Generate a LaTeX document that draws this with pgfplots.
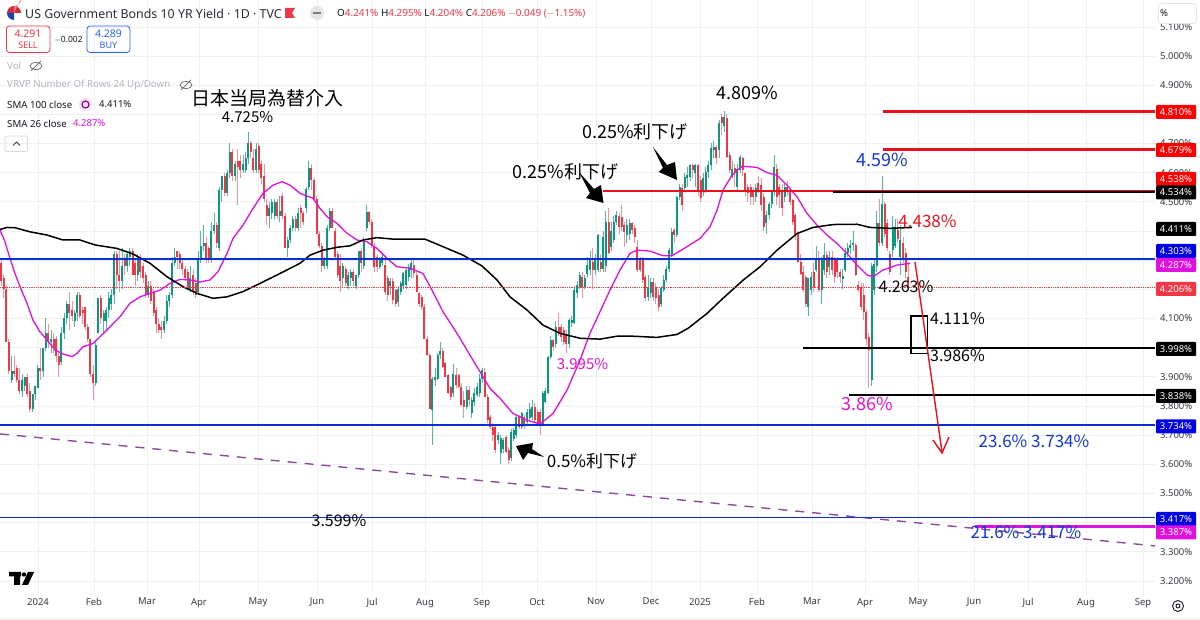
\documentclass[border=0pt]{standalone}
\usepackage{pgfplots}
\usepackage{pgfplotstable}
\pgfplotsset{compat=1.18}
\usepackage{fontspec}
\setmainfont{Noto Sans}
\newfontfamily\cjk{Noto Sans CJK JP}
\definecolor{tvgreen}{HTML}{089981}
\definecolor{tvred}{HTML}{F23645}
\definecolor{tvtext}{HTML}{131722}
\definecolor{tvgrey}{HTML}{B2B5BE}
\definecolor{tvblue}{HTML}{2962FF}
\definecolor{lineblue}{HTML}{0A2FD0}
\definecolor{linered}{HTML}{E8101A}
\definecolor{mag}{HTML}{E010E0}
\definecolor{purp}{HTML}{8E4B9E}
\definecolor{annblue}{HTML}{1438D8}
\newcommand{\fs}[1]{\fontsize{#1}{#1}\selectfont}
\pgfplotstableread{
o h l c
4.29 4.30 4.21 4.23
4.24 4.25 4.17 4.20
4.20 4.21 4.02 4.02
4.02 4.03 3.91 3.92
3.89 3.97 3.88 3.92
3.92 3.97 3.90 3.91
3.93 3.94 3.88 3.89
3.89 3.93 3.84 3.85
3.85 3.91 3.83 3.89
3.87 3.90 3.85 3.90
3.90 3.91 3.83 3.84
3.85 3.88 3.78 3.79
3.79 3.84 3.78 3.84
3.84 3.87 3.82 3.87
3.86 3.94 3.86 3.93
3.93 4.00 3.89 3.92
3.92 4.00 3.90 4.00
4.00 4.10 3.99 4.05
4.05 4.08 4.00 4.02
4.02 4.06 3.98 4.03
4.03 4.05 3.98 4.00
4.03 4.04 3.95 3.97
3.97 3.98 3.90 3.94
3.95 4.07 3.94 4.05
4.05 4.12 4.03 4.10
4.10 4.16 4.08 4.15
4.15 4.19 4.06 4.12
4.13 4.16 4.09 4.11
4.09 4.13 4.07 4.12
4.12 4.19 4.09 4.18
4.18 4.19 4.10 4.11
4.13 4.14 4.08 4.12
4.14 4.14 4.06 4.07
4.07 4.08 4.02 4.03
4.03 4.03 3.90 3.91
3.91 3.94 3.82 3.88
3.88 4.02 3.87 4.01
4.05 4.17 4.05 4.17
4.17 4.18 4.08 4.10
4.09 4.13 4.05 4.12
4.09 4.14 4.06 4.13
4.13 4.19 4.10 4.17
4.15 4.20 4.13 4.18
4.18 4.33 4.15 4.32
4.32 4.33 4.20 4.25
4.25 4.33 4.19 4.23
4.23 4.34 4.20 4.28
4.30 4.32 4.25 4.28
4.28 4.33 4.26 4.32
4.31 4.34 4.28 4.33
4.33 4.34 4.25 4.25
4.29 4.30 4.21 4.25
4.25 4.32 4.23 4.30
4.30 4.32 4.24 4.26
4.28 4.29 4.22 4.24
4.25 4.26 4.17 4.18
4.18 4.23 4.17 4.21
4.21 4.23 4.15 4.16
4.19 4.20 4.11 4.12
4.13 4.14 4.05 4.08
4.08 4.10 4.05 4.06
4.07 4.09 4.03 4.06
4.06 4.11 4.05 4.09
4.09 4.18 4.08 4.16
4.16 4.19 4.14 4.18
4.18 4.31 4.17 4.29
4.29 4.34 4.28 4.31
4.33 4.33 4.27 4.31
4.32 4.33 4.27 4.29
4.29 4.30 4.25 4.27
4.27 4.28 4.23 4.24
4.26 4.27 4.20 4.20
4.20 4.28 4.19 4.24
4.25 4.27 4.18 4.19
4.22 4.24 4.17 4.18
4.19 4.33 4.18 4.30
4.30 4.40 4.29 4.35
4.35 4.42 4.33 4.36
4.36 4.38 4.29 4.30
4.34 4.35 4.29 4.30
4.30 4.43 4.29 4.40
4.40 4.46 4.39 4.42
4.42 4.43 4.34 4.36
4.34 4.55 4.33 4.54
4.54 4.59 4.50 4.59
4.59 4.60 4.52 4.53
4.53 4.61 4.52 4.60
4.60 4.70 4.58 4.67
4.67 4.68 4.57 4.59
4.59 4.64 4.57 4.63
4.64 4.68 4.49 4.62
4.64 4.66 4.58 4.61
4.61 4.66 4.60 4.63
4.61 4.67 4.60 4.65
4.65 4.74 4.63 4.70
4.70 4.71 4.65 4.67
4.65 4.68 4.60 4.61
4.61 4.70 4.60 4.68
4.69 4.70 4.60 4.61
4.63 4.64 4.56 4.58
4.59 4.63 4.50 4.51
4.49 4.51 4.42 4.45
4.45 4.50 4.41 4.48
4.46 4.51 4.44 4.50
4.45 4.51 4.44 4.50
4.50 4.51 4.44 4.45
4.45 4.52 4.43 4.47
4.52 4.53 4.44 4.45
4.45 4.46 4.34 4.34
4.34 4.38 4.31 4.37
4.37 4.42 4.36 4.41
4.41 4.45 4.40 4.44
4.44 4.45 4.40 4.41
4.41 4.48 4.40 4.46
4.48 4.49 4.41 4.46
4.46 4.47 4.42 4.43
4.48 4.55 4.46 4.545
4.55 4.64 4.54 4.615
4.615 4.63 4.54 4.575
4.575 4.58 4.50 4.51
4.51 4.52 4.39 4.39
4.39 4.40 4.34 4.35
4.35 4.36 4.26 4.28
4.28 4.31 4.27 4.30
4.28 4.42 4.27 4.41
4.41 4.48 4.40 4.47
4.47 4.48 4.41 4.41
4.40 4.41 4.30 4.31
4.32 4.33 4.24 4.25
4.28 4.32 4.19 4.23
4.24 4.29 4.21 4.28
4.27 4.28 4.21 4.22
4.21 4.26 4.20 4.25
4.24 4.27 4.21 4.26
4.26 4.27 4.21 4.23
4.21 4.25 4.20 4.25
4.25 4.33 4.24 4.33
4.33 4.34 4.26 4.29
4.28 4.38 4.27 4.37
4.41 4.49 4.40 4.465
4.465 4.47 4.42 4.43
4.43 4.44 4.34 4.35
4.35 4.36 4.26 4.277
4.31 4.32 4.26 4.277
4.277 4.31 4.27 4.305
4.29 4.32 4.28 4.31
4.283 4.30 4.18 4.19
4.24 4.25 4.16 4.18
4.21 4.24 4.18 4.23
4.23 4.24 4.15 4.163
4.197 4.20 4.14 4.15
4.157 4.21 4.14 4.20
4.19 4.23 4.18 4.22
4.21 4.26 4.20 4.255
4.215 4.27 4.20 4.266
4.243 4.285 4.23 4.277
4.266 4.30 4.24 4.289
4.283 4.30 4.24 4.255
4.25 4.26 4.19 4.19
4.186 4.19 4.14 4.15
4.174 4.18 4.13 4.14
4.14 4.15 4.03 4.03
4.03 4.04 3.97 3.975
3.975 3.98 3.79 3.79
3.786 3.90 3.666 3.894
3.889 3.93 3.87 3.90
3.894 3.98 3.89 3.975
3.975 4.02 3.96 3.99
3.99 4.00 3.93 3.935
3.946 3.95 3.90 3.90
3.906 3.91 3.84 3.843
3.866 3.87 3.82 3.831
3.843 3.945 3.83 3.911
3.906 3.93 3.86 3.871
3.906 3.91 3.86 3.866
3.866 3.88 3.80 3.803
3.82 3.85 3.76 3.797
3.797 3.87 3.79 3.854
3.854 3.87 3.80 3.82
3.774 3.83 3.76 3.82
3.815 3.86 3.80 3.843
3.837 3.88 3.83 3.866
3.843 3.91 3.83 3.894
3.894 3.93 3.88 3.923
3.917 3.93 3.83 3.831
3.831 3.84 3.74 3.751
3.763 3.77 3.72 3.729
3.729 3.74 3.68 3.70
3.729 3.73 3.64 3.649
3.683 3.71 3.67 3.70
3.637 3.70 3.60 3.69
3.651 3.69 3.64 3.683
3.695 3.70 3.64 3.643
3.65 3.66 3.60 3.614
3.62 3.72 3.61 3.711
3.688 3.725 3.68 3.717
3.70 3.77 3.69 3.763
3.763 3.77 3.72 3.729
3.729 3.78 3.72 3.774
3.763 3.77 3.72 3.735
3.745 3.79 3.73 3.78
3.757 3.81 3.75 3.791
3.763 3.82 3.75 3.797
3.797 3.81 3.74 3.751
3.78 3.79 3.73 3.734
3.78 3.79 3.70 3.734
3.734 3.85 3.73 3.843
3.815 3.86 3.81 3.85
3.843 3.97 3.84 3.969
3.969 4.04 3.96 4.026
4.026 4.03 3.99 4.003
4.014 4.09 4.00 4.071
4.071 4.12 4.04 4.054
4.071 4.08 4.02 4.037
4.06 4.07 4.01 4.02
4.048 4.06 3.98 4.014
4.014 4.10 4.00 4.094
4.086 4.11 4.07 4.094
4.083 4.21 4.08 4.197
4.186 4.23 4.17 4.214
4.209 4.26 4.20 4.249
4.243 4.26 4.17 4.209
4.209 4.25 4.20 4.24
4.254 4.31 4.24 4.283
4.266 4.33 4.25 4.30
4.294 4.34 4.20 4.266
4.266 4.32 4.25 4.30
4.266 4.39 4.26 4.385
4.294 4.32 4.26 4.271
4.27 4.40 4.26 4.38
4.28 4.47 4.26 4.431
4.431 4.48 4.32 4.323
4.346 4.43 4.33 4.40
4.37 4.45 4.36 4.431
4.431 4.47 4.42 4.454
4.451 4.46 4.39 4.414
4.449 4.49 4.40 4.414
4.42 4.43 4.345 4.397
4.385 4.44 4.36 4.42
4.39 4.44 4.37 4.426
4.426 4.43 4.39 4.403
4.41 4.42 4.36 4.38
4.346 4.37 4.26 4.266
4.306 4.31 4.26 4.266
4.30 4.31 4.22 4.232
4.243 4.25 4.16 4.169
4.174 4.25 4.16 4.209
4.186 4.24 4.17 4.226
4.226 4.24 4.16 4.174
4.209 4.22 4.15 4.169
4.18 4.20 4.125 4.14
4.15 4.21 4.14 4.203
4.197 4.25 4.19 4.232
4.232 4.28 4.225 4.271
4.271 4.34 4.26 4.334
4.317 4.41 4.31 4.397
4.403 4.41 4.36 4.386
4.386 4.52 4.38 4.517
4.517 4.56 4.505 4.55
4.546 4.56 4.47 4.489
4.546 4.60 4.54 4.586
4.58 4.62 4.55 4.592
4.586 4.63 4.57 4.625
4.625 4.63 4.58 4.609
4.597 4.63 4.55 4.625
4.625 4.63 4.52 4.54
4.574 4.59 4.50 4.512
4.54 4.60 4.52 4.58
4.54 4.62 4.53 4.603
4.603 4.64 4.58 4.626
4.626 4.70 4.61 4.683
4.677 4.71 4.65 4.689
4.689 4.695 4.63 4.649
4.677 4.78 4.65 4.769
4.792 4.80 4.73 4.769
4.76 4.81 4.74 4.79
4.786 4.80 4.65 4.654
4.66 4.67 4.60 4.609
4.586 4.64 4.58 4.614
4.615 4.63 4.55 4.60
4.55 4.63 4.54 4.614
4.609 4.66 4.60 4.654
4.649 4.655 4.59 4.609
4.597 4.60 4.52 4.534
4.551 4.56 4.50 4.529
4.551 4.56 4.49 4.517
4.534 4.55 4.49 4.517
4.517 4.56 4.50 4.546
4.563 4.59 4.53 4.54
4.557 4.58 4.47 4.489
4.517 4.53 4.40 4.414
4.426 4.47 4.39 4.454
4.454 4.50 4.44 4.494
4.494 4.54 4.48 4.534
4.534 4.66 4.52 4.62
4.614 4.63 4.49 4.517
4.551 4.56 4.48 4.523
4.534 4.56 4.45 4.477
4.517 4.56 4.50 4.551
4.551 4.57 4.52 4.534
4.534 4.545 4.49 4.50
4.506 4.51 4.42 4.431
4.454 4.46 4.37 4.391
4.391 4.40 4.29 4.294
4.294 4.32 4.25 4.254
4.26 4.28 4.19 4.197
4.243 4.25 4.14 4.151
4.14 4.24 4.11 4.237
4.197 4.26 4.18 4.243
4.26 4.29 4.19 4.209
4.266 4.35 4.26 4.30
4.30 4.33 4.19 4.197
4.197 4.31 4.15 4.30
4.266 4.36 4.25 4.317
4.317 4.33 4.24 4.26
4.277 4.33 4.25 4.311
4.311 4.33 4.25 4.266
4.30 4.31 4.22 4.243
4.30 4.31 4.24 4.26
4.26 4.27 4.22 4.243
4.236 4.27 4.20 4.245
4.266 4.34 4.26 4.323
4.323 4.36 4.31 4.34
4.34 4.37 4.32 4.351
4.351 4.40 4.33 4.357
4.351 4.36 4.245 4.249
4.214 4.23 4.19 4.197
4.209 4.22 4.13 4.14
4.18 4.22 4.095 4.123
4.123 4.13 4.01 4.03
4.037 4.05 3.86 3.991
3.889 4.29 3.87 4.28
4.197 4.30 4.18 4.288
4.28 4.47 4.26 4.426
4.426 4.51 4.35 4.36
4.36 4.59 4.35 4.494
4.494 4.50 4.38 4.391
4.426 4.44 4.33 4.34
4.32 4.33 4.25 4.26
4.335 4.45 4.31 4.414
4.35 4.44 4.34 4.414
4.403 4.44 4.36 4.374
4.311 4.42 4.25 4.37
4.357 4.38 4.29 4.30
4.323 4.34 4.24 4.26
4.241 4.295 4.204 4.206
}\bars
\pgfplotstablecreatecol[create col/expr={\pgfplotstablerow*2.63+1}]{x}\bars
\begin{document}
\begin{tikzpicture}
\fill[white] (0,0) rectangle (1200pt,620pt);
\useasboundingbox (0,0) rectangle (1200pt,620pt);
\begin{axis}[
  at={(0pt,25pt)}, anchor=south west,
  scale only axis, width=1155pt, height=595pt,
  xmin=0, xmax=1155, ymin=3.1516, ymax=5.192,
  axis line style={draw=none}, tick style={draw=none},
  grid=major, grid style={color=black!6, line width=0.6pt},
  xtick={38,94,147,199,258,317,372,425,482,537,596,651,700,757,812,865,918,974,1028,1086,1143},
  xticklabels={\textbf{2024},Feb,Mar,Apr,May,Jun,Jul,Aug,Sep,Oct,Nov,Dec,\textbf{2025},Feb,Mar,Apr,May,Jun,Jul,Aug,Sep},
  xticklabel style={font=\fs{9.5}, text=tvtext!85, yshift=-2pt, inner sep=1pt},
  ytick={3.2,3.3,3.5,3.6,3.7,3.8,3.9,4.1,4.5,4.6,4.7,4.9,5.0,5.1},
  extra y ticks={3.4,4.0,4.2,4.3,4.4,4.8},
  extra y tick labels={},
  extra y tick style={grid=major},
  yticklabel pos=right,
  yticklabel={\pgfmathprintnumber[fixed,fixed zerofill,precision=3,assume math mode=true]{\tick}\%},
  yticklabel style={font=\fs{9.5}, text=tvtext!85, anchor=east, xshift=37.5pt, inner sep=0pt},
  clip=true,
]
% wicks
\addplot[draw=none, forget plot, error bars/.cd, y dir=plus, y explicit, error mark=none,
  error bar style={line width=0.9pt, tvgreen!70}]
  table[x=x, y expr={\thisrow{c}>=\thisrow{o} ? \thisrow{l} : nan}, y error plus expr={\thisrow{h}-\thisrow{l}}] {\bars};
\addplot[draw=none, forget plot, error bars/.cd, y dir=plus, y explicit, error mark=none,
  error bar style={line width=0.9pt, tvred!55}]
  table[x=x, y expr={\thisrow{c}<\thisrow{o} ? \thisrow{l} : nan}, y error plus expr={\thisrow{h}-\thisrow{l}}] {\bars};
% bodies
\addplot[draw=none, forget plot, error bars/.cd, y dir=plus, y explicit, error mark=none,
  error bar style={line width=2pt, tvgreen}]
  table[x=x, y expr={\thisrow{c}>=\thisrow{o} ? \thisrow{o} : nan}, y error plus expr={\thisrow{c}-\thisrow{o}}] {\bars};
\addplot[draw=none, forget plot, error bars/.cd, y dir=plus, y explicit, error mark=none,
  error bar style={line width=2pt, tvred}]
  table[x=x, y expr={\thisrow{c}<\thisrow{o} ? \thisrow{c} : nan}, y error plus expr={\thisrow{o}-\thisrow{c}}] {\bars};
\addplot[purp, line width=1.4pt, dash pattern=on 9pt off 8pt] coordinates {(0,3.704)(1155,3.320)};
% SMA 26
\addplot[mag, line width=1.3pt, line join=round] coordinates {
(0,4.403)(5,4.363)(10,4.306)(15,4.254)(20,4.209)(27,4.152)(33,4.094)(40,4.054)(47,4.026)(55,3.992)(63,3.978)(72,3.969)(77,3.98)(83,4.003)(93,4.014)(100,4.037)(110,4.071)(120,4.106)(130,4.152)(140,4.174)(150,4.186)(160,4.197)(170,4.22)(180,4.234)(190,4.232)(200,4.225)(210,4.232)(218,4.26)(227,4.323)(233,4.374)(243,4.42)(253,4.477)(263,4.529)(273,4.557)(282,4.569)(290,4.557)(300,4.529)
(313,4.512)(320,4.477)(328,4.446)(337,4.426)(347,4.392)(357,4.369)(367,4.363)(377,4.34)(387,4.306)(397,4.277)(410,4.272)(423,4.254)(432,4.197)(443,4.123)(457,4.049)(470,3.974)(482,3.906)(490,3.86)(500,3.826)(513,3.774)(527,3.751)(540,3.738)(553,3.774)(567,3.854)(580,3.957)(590,4.049)(600,4.123)
(610,4.197)(620,4.266)(630,4.323)(637,4.334)(650,4.331)(663,4.315)(672,4.315)(687,4.346)(700,4.374)(710,4.414)(717,4.471)(723,4.54)(732,4.591)(742,4.622)(757,4.618)(767,4.6)(777,4.591)(787,4.557)(797,4.517)(807,4.46)(817,4.42)(827,4.386)(837,4.357)(847,4.323)(857,4.283)(867,4.249)(873,4.243)(883,4.266)(897,4.283)(910,4.289)};
% SMA 100
\addplot[black, line width=1.5pt, line join=round] coordinates {
(0,4.405)(7,4.412)(15,4.411)(30,4.397)(47,4.386)(63,4.369)(80,4.369)(95,4.352)(117,4.34)(133,4.321)(150,4.289)(167,4.243)(183,4.209)(197,4.186)(213,4.169)(227,4.174)(243,4.192)(260,4.22)(277,4.249)(300,4.289)
(310,4.317)(323,4.334)(337,4.344)(350,4.349)(363,4.369)(377,4.377)(393,4.372)(425,4.372)(443,4.346)(463,4.317)(482,4.28)(497,4.232)(510,4.174)(527,4.129)(543,4.077)(560,4.049)(580,4.032)(600,4.029)
(617,4.039)(633,4.039)(657,4.035)(677,4.045)(688,4.066)(707,4.117)(723,4.169)(743,4.231)(760,4.277)(777,4.334)(797,4.391)(813,4.412)(833,4.422)(857,4.423)(870,4.412)(890,4.409)(912,4.412)};
% level lines
\addplot[draw=lineblue, line width=1.5pt] coordinates {(0,4.303)(1155,4.303)};
\addplot[draw=lineblue, line width=1.5pt] coordinates {(0,3.734)(1155,3.734)};
\addplot[draw=lineblue, line width=1.5pt] coordinates {(0,3.417)(1155,3.417)};
\addplot[draw=tvred, line width=0.8pt, densely dotted] coordinates {(0,4.206)(1155,4.206)};
\addplot[linered, line width=1.6pt] coordinates {(603,4.538)(1155,4.538)};
\addplot[black, line width=2.4pt] coordinates {(833,4.534)(1155,4.534)};
\addplot[linered, line width=2.4pt] coordinates {(883,4.810)(1155,4.810)};
\addplot[linered, line width=2.4pt] coordinates {(883,4.679)(1155,4.679)};
\addplot[black, line width=2.4pt] coordinates {(803,3.998)(1155,3.998)};
\addplot[black, line width=2.4pt] coordinates {(849,3.838)(1155,3.838)};
\addplot[mag, line width=2.4pt] coordinates {(975,3.387)(1155,3.387)};
\end{axis}
\begin{scope}[x=1pt,y=-1pt,shift={(0pt,620pt)}]
% header
\fill[tvred!85!black] (7,13) -- (21,13) arc (0:-180:7) -- cycle;
\fill[tvblue!70!black] (7,13) arc (180:90:7) -- (14,13) -- cycle;
\fill[tvred!70] (14,6) arc (90:0:7) -- (14,13) -- cycle;
\node[anchor=west, inner sep=0, text=tvtext!90, font=\fs{12.4}] at (25,13.5) {US Government Bonds 10 YR Yield · 1D · TVC};
\fill[tvred] (285,8) -- (295,8) -- (292,13) -- (295,18) -- (285,18) -- cycle;
\fill[black!10] (317,13) circle (7);
\fill[black!50] (313,12) rectangle (321,14);
\node[anchor=west, inner sep=0, font=\fs{9.9}] at (337,13.5) {\textcolor{tvtext}{O}\textcolor{tvred}{4.241\%} \textcolor{tvtext}{H}\textcolor{tvred}{4.295\%} \textcolor{tvtext}{L}\textcolor{tvred}{4.204\%} \textcolor{tvtext}{C}\textcolor{tvred}{4.206\% $-$0.049 ($-$1.15\%)}};
% sell, buy
\draw[tvred, line width=0.8pt, rounded corners=3pt] (6.5,26) rectangle (50,52.5);
\node[text=tvred, inner sep=0, font=\fs{10.5}] at (28,34) {4.291};
\node[text=tvred, inner sep=0, font=\fs{9}] at (28,45.5) {SELL};
\node[text=tvtext, inner sep=0, font=\fs{8.5}] at (68.5,40) {$-$0.002};
\draw[tvblue, line width=0.8pt, rounded corners=3pt] (87,26) rectangle (130,52.5);
\node[text=tvblue, inner sep=0, font=\fs{10.5}] at (108.5,34) {4.289};
\node[text=tvblue, inner sep=0, font=\fs{9}] at (108.5,45.5) {BUY};
% legend lines
\node[anchor=west, inner sep=0, text=tvgrey, font=\fs{9.7}] at (7,66) {Vol};
\draw[black!60, line width=0.7pt] (36,66) ellipse (6 and 3.5) (31,71) -- (41,61);
\node[anchor=west, inner sep=0, text=tvgrey, font=\fs{9.7}] at (7,85) {VRVP Number Of Rows 24 Up/Down};
\draw[black!60, line width=0.7pt] (186,85) ellipse (6 and 3.5) (181,90) -- (191,80);
\node[anchor=west, inner sep=0, text=tvtext, font=\fs{9.7}] at (7,104.5) {SMA 100 close};
\fill[tvblue!15!mag!15] (85.5,104.5) circle (6.5);
\draw[purple!70!blue, line width=1.1pt] (85.5,104.5) circle (3.5);
\node[anchor=west, inner sep=0, text=tvtext, font=\fs{9.5}] at (99,104.5) {4.411\%};
\node[anchor=west, inner sep=0, text=tvtext, font=\fs{9.7}] at (7,123.5) {SMA 26 close};
\node[anchor=west, inner sep=0, text=mag, font=\fs{9.5}] at (73,123.5) {4.287\%};
\draw[black!15, line width=0.7pt, rounded corners=2pt] (5,136) rectangle (27.5,151.5);
\draw[black!75, line width=0.8pt] (13,145.5) -- (16.5,142) -- (20,145.5);
% annotations
\node[inner sep=0, font=\cjk\fs{19}, text=black] at (267.5,98) {日本当局為替介入};
\node[inner sep=0, font=\cjk\fs{15}, text=black] at (247.5,117) {4.725\%};
\node[inner sep=0, font=\cjk\fs{18}, text=black] at (747.5,93) {4.809\%};
\node[inner sep=0, font=\cjk\fs{18}, text=black] at (635,132) {0.25\%利下げ};
\node[inner sep=0, font=\cjk\fs{18}, text=black] at (565.5,172) {0.25\%利下げ};
\node[inner sep=0, font=\cjk\fs{17}, text=black] at (592,461) {0.5\%利下げ};
\node[inner sep=0, font=\cjk\fs{15}, text=mag] at (582.5,364) {3.995\%};
\node[inner sep=0, font=\cjk\fs{18}, text=annblue] at (882.5,160) {4.59\%};
\node[inner sep=0, font=\cjk\fs{17}, text=linered] at (927.5,221) {4.438\%};
\node[inner sep=0, font=\cjk\fs{16}, text=black] at (906,287) {4.263\%};
\node[inner sep=0, font=\cjk\fs{16}, text=black] at (957.5,319) {4.111\%};
\node[inner sep=0, font=\cjk\fs{16}, text=black] at (957.5,356) {3.986\%};
\node[inner sep=0, font=\cjk\fs{18}, text=mag] at (867.5,404) {3.86\%};
\node[inner sep=0, font=\cjk\fs{17}, text=annblue] at (1034,441) {23.6\% 3.734\%};
\node[inner sep=0, font=\cjk\fs{16}, text=black] at (339,521) {3.599\%};
\node[inner sep=0, font=\cjk\fs{17}, text=annblue] at (1026,532) {21.6\% 3.417\%};
% block arrows
\fill[black] (579,172) -- (594,189) -- (601,185) -- (603.5,203) -- (586,198) -- (590,193) -- cycle;
\fill[black] (653,147) -- (667,165) -- (675,162) -- (677,180) -- (659,172) -- (663,168) -- cycle;
\fill[black] (516,446) -- (533,443) -- (532,449) -- (544,457) -- (528,453) -- (523,460) -- cycle;
% box and projected move
\draw[black, line width=1.6pt] (911,316) rectangle (927.5,353.5);
\draw[linered, line width=1.4pt] (915,262) -- (942,452);
\draw[linered, line width=1.4pt] (933,440) -- (942,453) -- (949,437);
% TradingView logo
\fill[black] (9,572) rectangle (21,576.5) (14,576.5) rectangle (20,585);
\fill[black] (24,574.5) circle (2.2);
\fill[black] (28,572) -- (34,572) -- (28,585) -- (22,585) -- cycle;
% gear
\draw[tvtext, line width=0.9pt] (1178,606) circle (5.5);
\draw[tvtext, line width=0.9pt] (1178,606) circle (2);
% unit box
\fill[white] (1158,3) rectangle (1197,24);
\draw[black!10, line width=0.6pt, rounded corners=3pt] (1158.5,3.5) rectangle (1196.5,23.5);
\node[inner sep=0, text=tvtext, font=\fs{9.5}] at (1164,13.5) {\%};
% tags
\newcommand{\ptag}[3]{\fill[#3, rounded corners=1pt] (1156,#1-7) rectangle (1196,#1+7);
  \node[inner sep=0, text=white, font=\fs{9.5}] at (1176,#1) {#2};}
\ptag{112}{4.810\%}{red}
\ptag{150}{4.679\%}{red}
\ptag{179}{4.538\%}{red}
\ptag{192.5}{4.534\%}{black}
\ptag{229}{4.411\%}{black}
\ptag{251}{4.303\%}{blue!90!black}
\ptag{265}{4.287\%}{mag}
\ptag{289}{4.206\%}{tvred}
\ptag{349}{3.998\%}{black}
\ptag{396}{3.838\%}{black}
\ptag{426.5}{3.734\%}{blue!90!black}
\ptag{519}{3.417\%}{blue!90!black}
\ptag{532.5}{3.387\%}{mag}
\fill[black!6] (0,618) rectangle (1200,620);
\end{scope}
\end{tikzpicture}
\end{document}
